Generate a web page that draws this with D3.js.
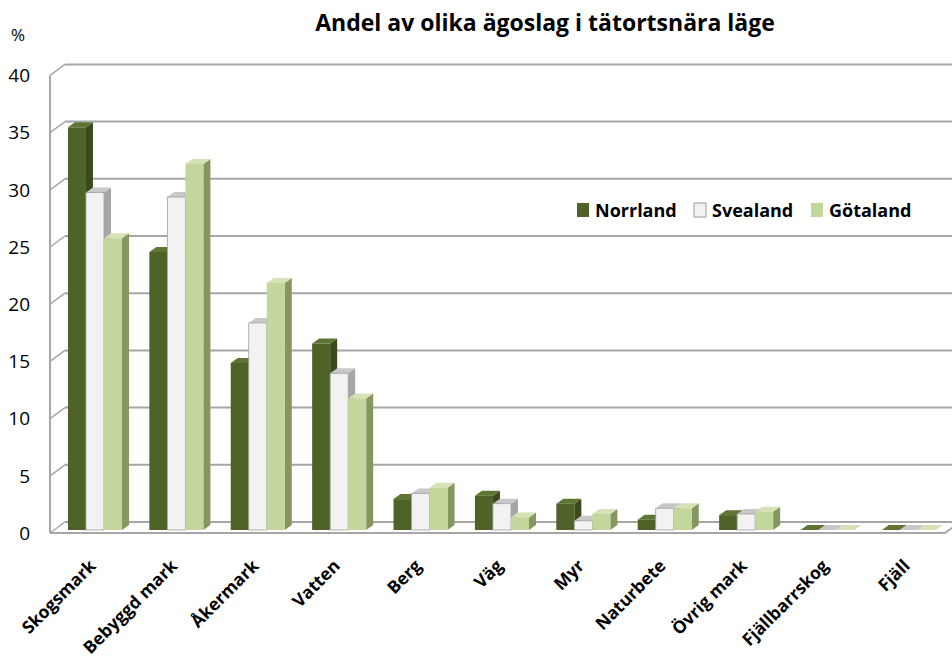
<!DOCTYPE html>
<html><head><meta charset="utf-8">
<script src="https://cdn.jsdelivr.net/npm/d3@7/dist/d3.min.js"></script>
<style>body{margin:0;background:#fff}svg{display:block}text{font-family:"Open Sans",sans-serif}</style>
</head><body><svg id="c" width="952" height="659"></svg>
<script>
const categories = ["Skogsmark","Bebyggd mark","Åkermark","Vatten","Berg","Väg","Myr","Naturbete","Övrig mark","Fjällbarrskog","Fjäll"];
const seriesNames = ["Norrland","Svealand","Götaland"];
const norrland = [35.2,24.3,14.6,16.3,2.7,3.0,2.3,0.9,1.3,0,0];
const svealand = [29.5,29.1,18.1,13.7,3.2,2.3,0.8,1.9,1.4,0,0];
const gotaland = [25.5,32.0,21.6,11.5,3.7,1.1,1.4,1.9,1.6,0,0];
const yTicks = [0,5,10,15,20,25,30,35,40];
const title = "Andel av olika ägoslag i tätortsnära läge";

const colors = {
  Norrland:{front:"#4f6228",side:"#3b4a1d",top:"#5f7633",stroke:"#4f6228"},
  Svealand:{front:"#f2f2f2",side:"#a6a6a6",top:"#c8c8c8",stroke:"#a0a0a0"},
  Götaland:{front:"#c3d69b",side:"#86965f",top:"#d4e2b5",stroke:"#b5c98a"}
};
const values = {Norrland:norrland,Svealand:svealand,Götaland:gotaland};

const svg = d3.select("#c");
const x = d3.scaleBand().domain(categories).range([40.6,963.3]).paddingInner(0.336).paddingOuter(0.336);
const xs = d3.scaleBand().domain(seriesNames).range([0,x.bandwidth()]);
const y = d3.scaleLinear().domain([0,40]).range([530,72.4]);

const wallL = 50, wallR = 945, depthX = 15, frontDY = 3, backDY = -8;
const grid = svg.append("g");
yTicks.forEach(v=>{
  const yb = y(v)+backDY, yf = y(v)+frontDY;
  grid.append("line").attr("x1",wallL+depthX).attr("x2",wallR+depthX).attr("y1",yb).attr("y2",yb)
    .attr("stroke","#a6a6a6").attr("stroke-width",2);
  grid.append("line").attr("x1",wallL).attr("x2",wallL+depthX).attr("y1",yf).attr("y2",yb)
    .attr("stroke","#a6a6a6").attr("stroke-width",1.5);
});
grid.append("line").attr("x1",wallL).attr("x2",wallL).attr("y1",y(40)+frontDY).attr("y2",y(0)+frontDY)
  .attr("stroke","#a6a6a6").attr("stroke-width",2);
grid.append("path").attr("d",`M${wallL},${y(0)+frontDY}H${wallR}L${wallR+depthX},${y(0)+backDY}`)
  .attr("fill","none").attr("stroke","#a6a6a6").attr("stroke-width",2);

svg.append("g").selectAll("text").data(yTicks).join("text")
  .attr("x",30).attr("y",d=>y(d)+frontDY).attr("dy","0.36em").attr("text-anchor","end")
  .attr("font-size",19).attr("fill","#000").text(d=>d);
svg.append("text").attr("x",11).attr("y",41).attr("font-size",17).text("%");

const bdx = 7, bdy = -5;
const bars = svg.append("g");
categories.forEach((c,i)=>{
  seriesNames.forEach(s=>{
    const v = values[s][i], col = colors[s];
    const x0 = x(c)+xs(s), w = xs.bandwidth(), yt = y(v), yb = y(0);
    const g = bars.append("g");
    g.append("path").attr("d",`M${x0+w},${yb}L${x0+w+bdx},${yb+bdy}L${x0+w+bdx},${yt+bdy}L${x0+w},${yt}Z`)
      .attr("fill",col.side);
    g.append("path").attr("d",`M${x0},${yt}L${x0+bdx},${yt+bdy}L${x0+w+bdx},${yt+bdy}L${x0+w},${yt}Z`)
      .attr("fill",col.top);
    g.append("rect").attr("x",x0).attr("y",yt).attr("width",w).attr("height",yb-yt)
      .attr("fill",col.front).attr("stroke",s==="Svealand"?col.stroke:"none").attr("stroke-width",0.8);
  });
});

svg.append("g").selectAll("text").data(categories).join("text")
  .attr("transform",d=>`translate(${x(d)+x.bandwidth()/2+2},${567}) rotate(-45)`)
  .attr("text-anchor","end").attr("font-size",17.4).attr("font-weight","bold").text(d=>d);

svg.append("text").attr("x",545).attr("y",31).attr("text-anchor","middle")
  .attr("font-size",23).attr("font-weight","bold").text(title);

const legX = [577,694,811];
const leg = svg.append("g");
seriesNames.forEach((s,i)=>{
  leg.append("rect").attr("x",legX[i]).attr("y",203).attr("width",12).attr("height",14)
    .attr("fill",colors[s].front).attr("stroke",s==="Svealand"?"#888":"none").attr("stroke-width",0.8);
  leg.append("text").attr("x",legX[i]+18).attr("y",217).attr("font-size",18).attr("font-weight","bold").text(s);
});
</script></body></html>
